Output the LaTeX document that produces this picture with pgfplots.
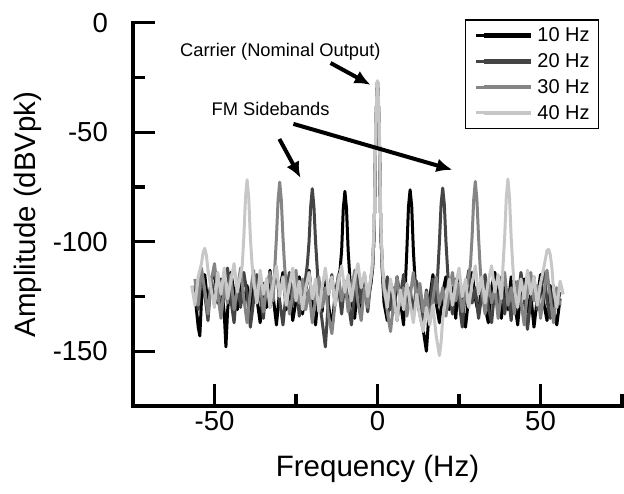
\documentclass[border=0pt]{standalone}
\usepackage{fontspec}
\setmainfont{Liberation Sans}
\usepackage{pgfplots}
\pgfplotsset{compat=1.18}
\usetikzlibrary{arrows.meta}
\definecolor{c10}{gray}{0}
\definecolor{c20}{gray}{0.27}
\definecolor{c30}{gray}{0.52}
\definecolor{c40}{gray}{0.78}
\begin{document}
\begin{tikzpicture}[x=1pt,y=1pt]
\useasboundingbox (0,0) rectangle (624,493);
\begin{axis}[
  at={(133pt,87pt)}, anchor=south west,
  width=489pt, height=383.3pt, scale only axis,
  xmin=-75, xmax=75, ymin=-175, ymax=0,
  axis lines*=left,
  axis line style={line width=3.3pt, line cap=rect},
  xtick={-50,0,50}, minor xtick={-25,25,75},
  ytick={-150,-100,-50,0}, minor ytick={-125,-75,-25},
  tick align=inside, major tick length=22pt, minor tick length=12pt,
  every tick/.style={line width=3.3pt, black},
  /pgf/number format/assume math mode=true,
  ticklabel style={font=\fontsize{27.5}{30}\selectfont},
  yticklabel style={inner sep=0pt, xshift=-25pt},
  xticklabel style={inner sep=0pt, yshift=-5pt},
  xlabel={Frequency (Hz)}, ylabel={Amplitude (dBVpk)},
  label style={font=\fontsize{29.5}{32}\selectfont},
  xlabel style={at={(axis description cs:0.5,-0.163)}, anchor=center, inner sep=0pt},
  ylabel style={at={(axis description cs:-0.215,0.5)}, anchor=center, inner sep=0pt},
  no markers,
  every axis plot/.append style={line width=3pt, line join=round},
  legend cell align=left,
  legend style={at={(axis description cs:0.679,1.009)}, anchor=north west,
    draw=black, line width=1.3pt, fill=white, inner xsep=9pt, inner ysep=8pt,
    font=\fontsize{20}{24}\selectfont, row sep=10.3pt, column sep=4pt,
    nodes={inner sep=0pt}},
  legend image code/.code={\path (0pt,0pt) -- (8pt,0pt); \draw[#1, line width=4.5pt] (8pt,0pt) -- (55pt,0pt);},
]
\addplot[c10] coordinates {
(-56,-124)(-55,-139)(-54.5,-143)(-54,-127)(-53,-115)(-52,-129)(-51,-118)(-50,-113)(-49,-128)(-48,-117)(-47,-133)(-46.5,-148)(-46,-132)(-45,-114)(-44,-123)(-43,-131)(-42,-116)(-41,-128)(-40,-120)(-39,-134)(-38,-115)(-37,-126)(-36,-137)(-35,-119)(-34,-130)(-33,-113)(-32,-125)(-31,-138)(-30,-122)(-29,-114)(-28,-131)(-27,-121)(-26,-136)(-25,-127)(-24,-116)(-23,-133)(-22,-122)(-21,-113)(-20,-128)(-19,-138)(-18,-121)(-17,-132)(-16,-117)(-15,-129)(-14,-140)(-13,-124)(-12,-116)(-11.5,-113)(-11,-104)(-10.5,-85)(-10,-77)(-9.5,-85)(-9,-104)(-8.5,-116)(-8,-126)(-7,-135)(-6,-118)(-5,-131)(-4,-115)(-3,-127)(-2,-119)(-1.5,-112)(-1,-95)(-0.5,-45)(0,-27)(0.5,-45)(1,-95)(1.5,-114)(2,-128)(3,-136)(4,-119)(5,-132)(6,-116)(7,-127)(8,-138)(8.5,-121)(9,-104)(9.5,-84)(10,-76.3)(10.5,-84)(11,-104)(11.5,-117)(12,-126)(13,-133)(14,-140)(15,-150)(15.5,-139)(16,-126)(17,-115)(18,-128)(19,-137)(20,-123)(21,-116)(22,-131)(23,-121)(24,-135)(25,-115)(26,-129)(27,-139)(28,-125)(29,-114)(30,-126)(31,-133)(32,-118)(33,-130)(34,-137)(35,-121)(36,-114)(37,-128)(38,-135)(39,-119)(40,-131)(41,-116)(42,-127)(43,-138)(44,-122)(45,-117)(46,-132)(47,-124)(48,-139)(49,-126)(50,-115)(51,-128)(52,-136)(53,-120)(54,-131)(55,-138)(56,-126)
};
\addlegendentry{10 Hz}
\addplot[c20] coordinates {
(-56,-120)(-55,-131)(-54,-114)(-53,-124)(-52,-136)(-51,-116)(-50,-128)(-49,-119)(-48,-134)(-47,-123)(-46,-112)(-45,-126)(-44,-137)(-43,-119)(-42,-130)(-41,-114)(-40,-124)(-39,-139)(-38,-127)(-37,-115)(-36,-125)(-35,-135)(-34,-117)(-33,-130)(-32,-121)(-31,-113)(-30,-127)(-29,-138)(-28,-123)(-27,-114)(-26,-129)(-25,-118)(-24,-134)(-23,-124)(-22,-116)(-21.5,-110)(-21,-100)(-20.5,-84)(-20,-75.8)(-19.5,-84)(-19,-100)(-18.5,-112)(-18,-125)(-17,-136)(-16,-148)(-15.5,-137)(-15,-124)(-14,-115)(-13,-129)(-12,-120)(-11,-133)(-10,-118)(-9,-127)(-8,-138)(-7,-123)(-6,-113)(-5,-128)(-4,-119)(-3,-132)(-2,-117)(-1.5,-112)(-1,-95)(-0.5,-45)(0,-27)(0.5,-45)(1,-95)(1.5,-113)(2,-125)(3,-116)(4,-131)(5,-121)(6,-136)(7,-125)(8,-115)(9,-130)(10,-121)(11,-134)(12,-118)(13,-127)(14,-138)(15,-122)(16,-131)(17,-117)(18,-128)(18.5,-114)(19,-100)(19.5,-83)(20,-75.5)(20.5,-83)(21,-100)(21.5,-113)(22,-124)(23,-133)(24,-117)(25,-127)(26,-139)(27,-122)(28,-113)(29,-128)(30,-121)(31,-135)(32,-124)(33,-115)(34,-130)(35,-137)(36,-121)(37,-128)(38,-116)(39,-133)(40,-122)(41,-136)(42,-118)(43,-129)(44,-114)(45,-126)(46,-140)(47,-127)(48,-116)(49,-131)(50,-122)(51,-113)(52,-127)(53,-135)(54,-120)(55,-130)(56,-123)
};
\addlegendentry{20 Hz}
\addplot[c30] coordinates {
(-56,-117)(-55,-129)(-54,-112)(-53,-122)(-52,-133)(-51,-118)(-50,-110)(-49,-124)(-48,-135)(-47,-120)(-46,-128)(-45,-115)(-44,-131)(-43,-122)(-42,-112)(-41,-126)(-40,-137)(-39,-123)(-38,-113)(-37,-128)(-36,-119)(-35,-132)(-34,-121)(-33,-114)(-32,-127)(-31.5,-112)(-31,-98)(-30.5,-81)(-30,-72.8)(-29.5,-81)(-29,-98)(-28.5,-111)(-28,-120)(-27,-133)(-26,-124)(-25,-113)(-24,-128)(-23,-117)(-22,-131)(-21,-122)(-20,-137)(-19,-126)(-18,-116)(-17,-130)(-16,-121)(-15,-134)(-14,-142)(-13,-128)(-12,-115)(-11,-127)(-10,-118)(-9,-132)(-8,-123)(-7,-113)(-6,-128)(-5,-136)(-4,-121)(-3,-130)(-2,-116)(-1.5,-111)(-1,-95)(-0.5,-45)(0,-27)(0.5,-45)(1,-95)(1.5,-112)(2,-120)(3,-132)(4,-141)(5,-127)(6,-116)(7,-129)(8,-121)(9,-134)(10,-125)(11,-114)(12,-127)(13,-119)(14,-132)(15,-123)(16,-137)(17,-126)(18,-116)(19,-129)(20,-121)(21,-134)(22,-123)(23,-114)(24,-127)(25,-119)(26,-132)(27,-123)(28,-115)(28.5,-111)(29,-98)(29.5,-81)(30,-72.5)(30.5,-81)(31,-98)(31.5,-112)(32,-122)(33,-133)(34,-118)(35,-128)(36,-121)(37,-135)(38,-124)(39,-114)(40,-129)(41,-121)(42,-133)(43,-118)(44,-127)(45,-138)(46,-123)(47,-114)(48,-127)(49,-120)(50,-135)(51,-124)(52,-113)(53,-126)(54,-137)(55,-121)(56,-129)
};
\addlegendentry{30 Hz}
\addplot[c40] coordinates {
(-57,-120)(-56,-129)(-55,-116)(-54,-110)(-53.5,-105)(-53,-103)(-52.5,-106)(-52,-113)(-51,-122)(-50,-130)(-49,-114)(-48,-124)(-47,-112)(-46,-126)(-45,-118)(-44,-110)(-43,-123)(-42,-115)(-41.5,-111)(-41,-98)(-40.5,-80)(-40,-71.7)(-39.5,-80)(-39,-98)(-38.5,-110)(-38,-118)(-37,-128)(-36,-113)(-35,-124)(-34,-117)(-33,-130)(-32,-119)(-31,-111)(-30,-125)(-29,-116)(-28,-129)(-27,-120)(-26,-112)(-25,-127)(-24,-118)(-23,-131)(-22,-121)(-21,-114)(-20,-126)(-19,-117)(-18,-132)(-17,-121)(-16,-112)(-15,-124)(-14,-116)(-13,-129)(-12,-118)(-11,-111)(-10,-123)(-9,-115)(-8,-127)(-7,-117)(-6,-110)(-5,-121)(-4,-114)(-3,-125)(-2,-116)(-1.5,-108)(-1,-90)(-0.5,-42)(0,-26.5)(0.5,-42)(1,-90)(1.5,-110)(2,-121)(3,-130)(4,-117)(5,-126)(6,-136)(7,-122)(8,-131)(9,-119)(10,-128)(11,-137)(12,-124)(13,-134)(14,-141)(15,-130)(16,-138)(17,-129)(18,-143)(19,-152)(19.5,-146)(20,-135)(21,-126)(22,-117)(23,-129)(24,-120)(25,-112)(26,-125)(27,-117)(28,-130)(29,-119)(30,-111)(31,-124)(32,-116)(33,-128)(34,-118)(35,-111)(36,-123)(37,-115)(38,-126)(38.5,-111)(39,-98)(39.5,-80)(40,-71.4)(40.5,-80)(41,-98)(41.5,-111)(42,-122)(43,-130)(44,-117)(45,-126)(46,-113)(47,-124)(48,-116)(49,-129)(50,-119)(51,-112)(51.5,-108)(52,-104)(52.5,-103.5)(53,-106)(53.5,-112)(54,-122)(55,-130)(56,-118)(57,-124)
};
\addlegendentry{40 Hz}
\node[font=\fontsize{18.3}{22}\selectfont] at (axis cs:-29.8,-13.4) {Carrier (Nominal Output)};
\node[font=\fontsize{18.3}{22}\selectfont] at (axis cs:-32.8,-39.4) {FM Sidebands};
\draw[line width=4pt, -{Latex[length=16pt,width=14pt]}] (axis cs:-14.4,-18.4) -- (axis cs:-2.1,-28.4);
\draw[line width=4pt, -{Latex[length=16pt,width=14pt]}] (axis cs:-30.1,-53.1) -- (axis cs:-23.6,-70.9);
\draw[line width=4pt, -{Latex[length=16pt,width=14pt]}] (axis cs:-25.8,-46.2) -- (axis cs:23.0,-67.2);
\end{axis}
\end{tikzpicture}
\end{document}
